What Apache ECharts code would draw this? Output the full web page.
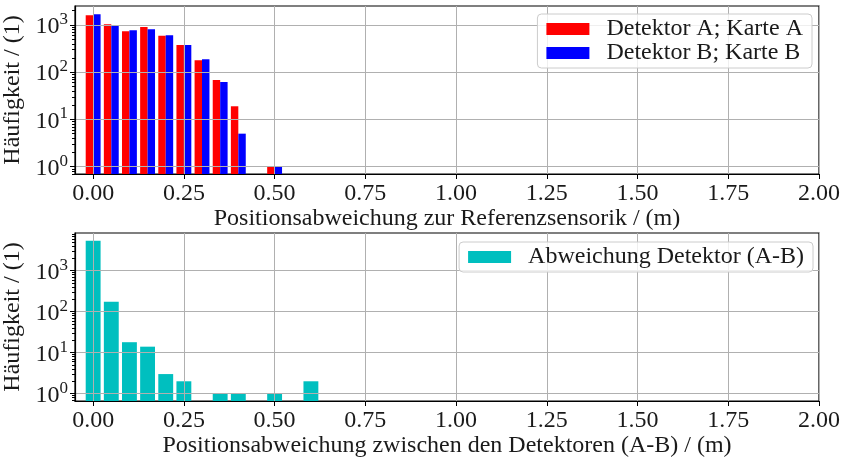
<!DOCTYPE html>
<html>
<head>
<meta charset="utf-8">
<script src="https://cdn.jsdelivr.net/npm/echarts@6/dist/echarts.min.js"></script>
<style>
  html, body { margin: 0; padding: 0; background: #fff; }
  #chart { width: 844px; height: 459px; }
</style>
</head>
<body>
<div id="chart"></div>
<script>
// Klassenmitten (m) und Häufigkeiten, oberes Diagramm
const binsTop = [0, 0.05, 0.10, 0.15, 0.20, 0.25, 0.30, 0.35, 0.40, 0.45, 0.50];
const countsA = [1610, 1040, 740, 900, 590, 378, 180, 68, 19, null, 1];
const countsB = [1690, 990, 776, 815, 605, 378, 188, 62, 5, null, 1];

// Abweichung zwischen den Detektoren, unteres Diagramm
const binsDiff = [0, 0.05, 0.10, 0.15, 0.20, 0.25, 0.30, 0.35, 0.40, 0.45, 0.50, 0.55, 0.60];
const countsDiff = [5400, 175, 18, 14, 3, 2, null, 1, 1, null, 1, null, 2];

const xTicks = [0, 0.25, 0.5, 0.75, 1, 1.25, 1.5, 1.75, 2];
const yTicks = [1, 10, 100, 1000];

const FONT = 'Liberation Serif';
const TXT = '#1a1a1a';
const GRIDC = '#b0b0b0';

// kleine Striche der log-Achse
function minorTicks(lo, hi) {
  const out = [];
  for (let e = -1; e <= 4; e++) {
    for (let m = 2; m <= 9; m++) {
      const v = m * Math.pow(10, e);
      if (v > lo && v < hi) out.push(+v.toPrecision(3));
    }
  }
  return out;
}

function pairs(xs, ys) {
  const out = [];
  xs.forEach((x, i) => { if (ys[i] != null) out.push([x, ys[i]]); });
  return out;
}

// Balken: Breite in Achseneinheiten, Versatz relativ zur Klassenmitte
function barRenderer(width, shift, yMin) {
  return function (params, api) {
    const x = api.value(0), y = api.value(1);
    const x0 = x + shift - width / 2, x1 = x + shift + width / 2;
    const pTop = api.coord([x0, y]);
    const pEnd = api.coord([x1, yMin]);
    return {
      type: 'rect',
      shape: { x: pTop[0], y: pTop[1], width: pEnd[0] - pTop[0], height: pEnd[1] - pTop[1] },
      style: { fill: api.visual('color') }
    };
  };
}

function xAxisOf(grid, name) {
  return {
    type: 'value', gridIndex: grid, min: -0.05, max: 2.0, z: 3,
    name: name, nameLocation: 'middle', nameGap: 30,
    nameTextStyle: { fontFamily: FONT, fontSize: 24, color: TXT },
    axisLine: { show: true, onZero: false, lineStyle: { color: '#000', width: 1.2 } },
    axisTick: { show: true, length: 5, customValues: xTicks, lineStyle: { color: '#000' } },
    axisLabel: {
      customValues: xTicks, margin: 8, fontFamily: FONT, fontSize: 24, color: TXT,
      formatter: v => v.toFixed(2)
    },
    splitLine: { show: true, lineStyle: { color: GRIDC, width: 1 } }
  };
}

function yAxisOf(grid, lo, hi) {
  return {
    type: 'log', gridIndex: grid, position: 'left', min: lo, max: hi, z: 3,
    name: 'Häufigkeit / (1)', nameLocation: 'middle', nameGap: 44,
    nameTextStyle: { fontFamily: FONT, fontSize: 24, color: TXT },
    axisLine: { show: true, onZero: false, lineStyle: { color: '#000', width: 1.2 } },
    axisTick: { show: true, length: 5, customValues: yTicks, lineStyle: { color: '#000' } },
    axisLabel: {
      customValues: yTicks, margin: 7,
      formatter: v => '{b|10}{s|' + Math.round(Math.log10(v)) + '}',
      rich: {
        b: { fontFamily: FONT, fontSize: 24, color: TXT, lineHeight: 28, verticalAlign: 'bottom' },
        s: { fontFamily: FONT, fontSize: 17, color: TXT, lineHeight: 17, verticalAlign: 'top' }
      }
    },
    splitLine: { show: true, lineStyle: { color: GRIDC, width: 1 } }
  };
}

function yMinorOf(grid, lo, hi) {
  return {
    type: 'log', gridIndex: grid, position: 'left', offset: 0, min: lo, max: hi, z: 3,
    axisLine: { show: false, onZero: false },
    axisTick: { show: true, length: 3, customValues: minorTicks(lo, hi), lineStyle: { color: '#000' } },
    axisLabel: { show: false },
    splitLine: { show: false }
  };
}

function legendOf(right, top, names) {
  return {
    orient: 'vertical', right: right, top: top, data: names,
    icon: 'rect', itemWidth: 43, itemHeight: 12, itemGap: 0,
    padding: [3, 9, 3, 9], selectedMode: false,
    backgroundColor: 'rgba(255,255,255,0.8)', borderColor: '#cccccc',
    borderWidth: 1, borderRadius: 4,
    textStyle: { fontFamily: FONT, fontSize: 24, color: TXT, lineHeight: 23, padding: [0, 0, 0, 12] }
  };
}

const topMin = 0.7, topMax = 2520;
const botMin = 0.66, botMax = 8350;

const chart = echarts.init(document.getElementById('chart'));
chart.setOption({
  animation: false,
  grid: [
    { left: 75, right: 25, top: 6, height: 168, outerBoundsMode: 'none', containLabel: false,
      show: true, borderColor: '#000', borderWidth: 1.2, backgroundColor: '#fff' },
    { left: 75, right: 25, top: 233, height: 168, outerBoundsMode: 'none', containLabel: false,
      show: true, borderColor: '#000', borderWidth: 1.2, backgroundColor: '#fff' }
  ],
  xAxis: [
    xAxisOf(0, 'Positionsabweichung zur Referenzsensorik / (m)'),
    xAxisOf(1, 'Positionsabweichung zwischen den Detektoren (A-B) / (m)')
  ],
  yAxis: [
    yAxisOf(0, topMin, topMax),
    yMinorOf(0, topMin, topMax),
    yAxisOf(1, botMin, botMax),
    yMinorOf(1, botMin, botMax)
  ],
  legend: [
    legendOf(32, 14, ['Detektor A; Karte A', 'Detektor B; Karte B']),
    legendOf(31, 242, ['Abweichung Detektor (A-B)'])
  ],
  series: [
    {
      name: 'Detektor A; Karte A', type: 'custom', xAxisIndex: 0, yAxisIndex: 0,
      itemStyle: { color: '#ff0000' }, encode: { x: 0, y: 1 }, clip: true,
      renderItem: barRenderer(0.0205, -0.01025, topMin),
      data: pairs(binsTop, countsA)
    },
    {
      name: 'Detektor B; Karte B', type: 'custom', xAxisIndex: 0, yAxisIndex: 0,
      itemStyle: { color: '#0000ff' }, encode: { x: 0, y: 1 }, clip: true,
      renderItem: barRenderer(0.0205, 0.01025, topMin),
      data: pairs(binsTop, countsB)
    },
    {
      name: 'Abweichung Detektor (A-B)', type: 'custom', xAxisIndex: 1, yAxisIndex: 2,
      itemStyle: { color: '#00bfbf' }, encode: { x: 0, y: 1 }, clip: true,
      renderItem: barRenderer(0.041, 0, botMin),
      data: pairs(binsDiff, countsDiff)
    }
  ]
});
</script>
</body>
</html>
